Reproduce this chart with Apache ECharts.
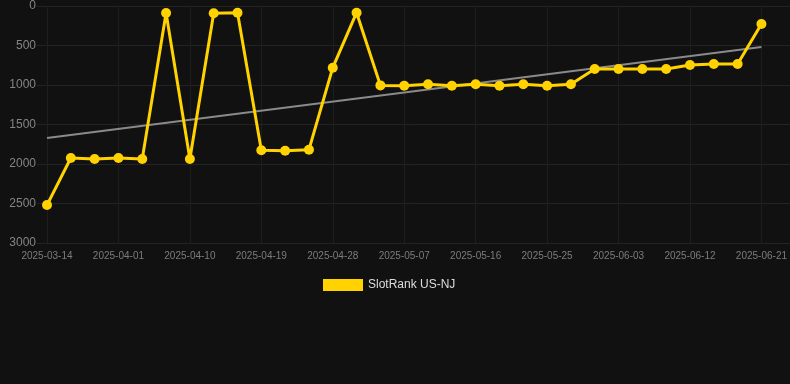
<!DOCTYPE html>
<html>
<head>
<meta charset="utf-8">
<script src="https://cdn.jsdelivr.net/npm/echarts@6/dist/echarts.min.js"></script>
<style>
html,body{margin:0;padding:0;background:#111111;}
#chart{width:790px;height:384px;}
</style>
</head>
<body>
<div id="chart"></div>
<script>
var categories = [
  "2025-03-14","2025-03-20","2025-03-26","2025-04-01","2025-04-04","2025-04-07",
  "2025-04-10","2025-04-13","2025-04-16","2025-04-19","2025-04-22","2025-04-25",
  "2025-04-28","2025-05-01","2025-05-04","2025-05-07","2025-05-10","2025-05-13",
  "2025-05-16","2025-05-19","2025-05-22","2025-05-25","2025-05-28","2025-05-31",
  "2025-06-03","2025-06-06","2025-06-09","2025-06-12","2025-06-15","2025-06-18",
  "2025-06-21"
];
var rankValues = [
  2520, 1924, 1937, 1924, 1937, 88,
  1937, 92, 86, 1827, 1832, 1819,
  781, 85, 1005, 1009, 991, 1009,
  991, 1009, 991, 1009, 991, 797,
  797, 797, 797, 747, 734, 734,
  228
];
var trendValues = [1670, 520];
var yTicks = {min: 0, max: 3000, interval: 500};
var seriesName = "SlotRank US-NJ";

var chart = echarts.init(document.getElementById('chart'), null, {renderer: 'canvas'});
var gridTop = 6, gridBottom = 141;
chart.setOption({
  backgroundColor: '#111111',
  animation: false,
  legend: {
    data: [seriesName],
    bottom: 88,
    left: 318,
    itemWidth: 40,
    itemHeight: 12,
    icon: 'rect',
    textStyle: {color: '#dddddd', fontSize: 12, fontFamily: 'Liberation Sans, Arial, sans-serif'}
  },
  grid: [
    {left: 47, right: 28, top: gridTop, bottom: gridBottom},
    {left: 37, right: 0, top: gridTop, bottom: gridBottom}
  ],
  xAxis: [
    {
      type: 'category', gridIndex: 0, data: categories, boundaryGap: false,
      axisLine: {show: false}, axisTick: {show: false},
      axisLabel: {interval: 2, color: '#7c7c7c', fontSize: 10, margin: 8, fontFamily: 'Liberation Sans, Arial, sans-serif'},
      splitLine: {show: true, interval: 2, lineStyle: {color: '#1e1e1e', width: 1}}
    },
    {type: 'value', gridIndex: 1, show: false, min: 0, max: 1}
  ],
  yAxis: [
    {
      type: 'value', gridIndex: 0, inverse: true,
      min: yTicks.min, max: yTicks.max, interval: yTicks.interval,
      axisLine: {show: false}, axisTick: {show: false},
      axisLabel: {color: '#858585', fontSize: 12, margin: 11, fontFamily: 'Liberation Sans, Arial, sans-serif',
        formatter: function (v) { return String(v); }},
      splitLine: {show: false}
    },
    {
      type: 'value', gridIndex: 1, inverse: true,
      min: yTicks.min, max: yTicks.max, interval: yTicks.interval,
      axisLine: {show: false}, axisTick: {show: false}, axisLabel: {show: false},
      splitLine: {show: true, lineStyle: {color: '#232323', width: 1}}
    }
  ],
  series: [
    {
      name: 'trend', type: 'line', xAxisIndex: 0, yAxisIndex: 0,
      data: [[categories[0], trendValues[0]], [categories[categories.length - 1], trendValues[1]]],
      symbol: 'none', silent: true,
      lineStyle: {color: '#8a8a8a', width: 2},
      z: 1
    },
    {
      name: seriesName, type: 'line', xAxisIndex: 0, yAxisIndex: 0,
      data: rankValues,
      symbol: 'circle', symbolSize: 10,
      itemStyle: {color: '#ffd200'},
      lineStyle: {color: '#ffd200', width: 3},
      z: 3
    }
  ]
});
</script>
</body>
</html>
